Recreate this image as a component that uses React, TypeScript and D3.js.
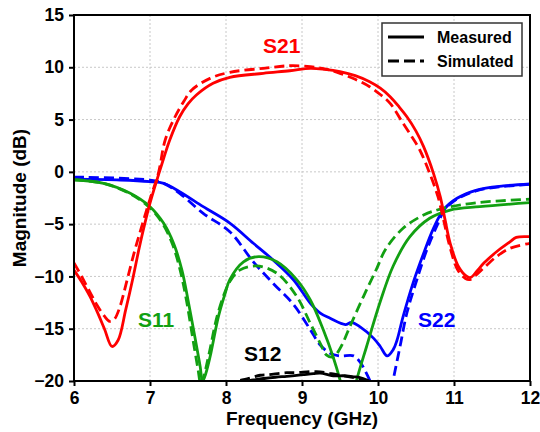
import React, { useRef, useEffect } from 'react';
import * as d3 from 'd3';

// [frequency GHz, magnitude dB]
const s21Meas: [number, number][] = [
  [6.0, -9.4], [6.1, -10.5], [6.21, -11.9], [6.3, -13.3], [6.4, -15.0], [6.5, -16.7], [6.58, -16.1],
  [6.68, -13.2], [6.78, -10.0], [6.86, -7.2], [6.93, -5.0], [7.0, -3.0], [7.09, -0.8], [7.18, 1.3],
  [7.26, 3.05], [7.39, 5.27], [7.5, 6.5], [7.61, 7.35], [7.83, 8.47], [8.05, 9.04], [8.49, 9.42],
  [8.84, 9.67], [9.11, 9.9], [9.3, 9.8], [9.5, 9.58], [9.7, 9.2], [9.89, 8.62], [10.03, 8.0],
  [10.16, 7.19], [10.28, 6.2], [10.38, 5.27], [10.5, 3.9], [10.6, 2.41], [10.73, -0.14], [10.82, -2.4],
  [10.88, -4.5], [10.95, -6.83], [11.06, -9.07], [11.17, -10.0], [11.22, -10.1], [11.3, -9.5],
  [11.39, -8.75], [11.56, -7.64], [11.74, -6.68], [11.82, -6.26], [12.0, -6.2],
];
const s21Sim: [number, number][] = [
  [6.0, -8.7], [6.1, -10.0], [6.21, -11.5], [6.3, -12.7], [6.4, -13.8], [6.47, -14.3], [6.53, -14.1],
  [6.6, -13.0], [6.7, -10.3], [6.8, -7.5], [6.9, -5.0], [7.0, -2.6], [7.11, -0.14], [7.2, 3.05],
  [7.33, 5.27], [7.45, 6.8], [7.55, 7.83], [7.79, 8.94], [8.05, 9.52], [8.49, 9.9], [8.84, 10.15],
  [9.11, 10.06], [9.3, 9.85], [9.5, 9.42], [9.7, 8.85], [9.89, 8.14], [10.03, 7.4], [10.16, 6.55],
  [10.33, 4.64], [10.45, 3.3], [10.55, 2.09], [10.68, -0.14], [10.79, -2.4], [10.86, -4.5],
  [10.94, -7.0], [11.05, -9.4], [11.15, -10.2], [11.21, -10.3], [11.3, -9.8], [11.39, -9.2],
  [11.56, -8.1], [11.74, -7.3], [12.0, -6.83],
];
const s11Meas: [number, number][] = [
  [6.0, -0.78], [6.39, -1.1], [6.74, -2.05], [7.0, -3.33], [7.18, -4.92], [7.31, -6.83], [7.42, -9.39],
  [7.5, -12.25], [7.59, -15.77], [7.66, -18.6], [7.69, -20.0], [7.72, -19.6], [7.79, -17.7],
  [7.9, -13.85], [7.99, -11.6], [8.05, -10.3], [8.23, -8.6], [8.43, -8.1], [8.67, -8.6], [8.93, -10.3],
  [9.11, -12.25], [9.28, -15.1], [9.41, -17.7], [9.5, -19.9], [9.61, -23.5], [9.72, -19.9],
  [9.85, -16.7], [10.03, -12.4], [10.2, -9.0], [10.42, -6.2], [10.68, -4.44], [10.95, -3.65],
  [11.34, -3.33], [12.0, -2.95],
];
const s11Sim: [number, number][] = [
  [6.0, -0.75], [6.39, -1.1], [6.74, -2.1], [7.0, -3.45], [7.17, -5.0], [7.3, -7.0], [7.4, -9.5],
  [7.48, -12.3], [7.56, -15.8], [7.63, -18.8], [7.67, -20.3], [7.71, -19.5], [7.78, -17.3],
  [7.88, -13.9], [7.98, -11.6], [8.05, -10.5], [8.18, -9.4], [8.4, -9.0], [8.67, -9.7], [8.93, -11.9],
  [9.11, -14.5], [9.24, -16.4], [9.32, -17.5], [9.41, -17.7], [9.5, -16.9], [9.63, -14.8],
  [9.81, -11.9], [9.98, -9.3], [10.1, -7.4], [10.33, -5.4], [10.6, -4.13], [10.86, -3.49],
  [11.3, -2.95], [12.0, -2.62],
];
const s22Meas: [number, number][] = [
  [6.0, -0.7], [6.61, -0.78], [7.0, -0.94], [7.18, -1.1], [7.39, -1.9], [7.7, -3.33], [8.05, -4.9],
  [8.36, -6.83], [8.62, -8.43], [8.89, -10.34], [9.11, -12.57], [9.24, -13.5], [9.37, -14.0],
  [9.57, -14.6], [9.65, -14.4], [9.76, -14.8], [9.94, -15.9], [10.03, -16.7], [10.12, -17.6],
  [10.2, -17.0], [10.25, -16.1], [10.33, -13.85], [10.46, -10.66], [10.6, -7.8], [10.73, -5.4],
  [10.86, -3.65], [11.04, -2.53], [11.3, -1.74], [11.65, -1.35], [12.0, -1.16],
];
const s22Sim: [number, number][] = [
  [6.0, -0.5], [7.0, -0.78], [7.18, -1.1], [7.39, -2.05], [7.7, -3.97], [8.05, -5.72], [8.36, -8.6],
  [8.62, -10.66], [8.89, -12.7], [9.11, -15.1], [9.24, -16.56], [9.37, -17.35], [9.5, -17.6],
  [9.68, -17.6], [9.76, -18.15], [9.85, -19.3], [9.92, -20.5], [10.0, -23], [10.12, -23],
  [10.2, -19.9], [10.29, -16.7], [10.38, -13.5], [10.51, -10.34], [10.64, -7.5], [10.77, -5.24],
  [10.88, -3.6], [11.04, -2.6], [11.3, -1.8], [11.65, -1.4], [12.0, -1.2],
];
const s12Meas: [number, number][] = [
  [8.0, -20.5], [8.29, -20.0], [8.36, -19.9], [8.65, -19.64], [8.8, -19.55], [9.01, -19.4],
  [9.15, -19.3], [9.24, -19.25], [9.41, -19.5], [9.55, -19.5], [9.68, -19.6], [9.74, -19.64],
  [9.87, -19.96], [9.95, -20.3],
];
const s12Sim: [number, number][] = [
  [8.0, -20.4], [8.18, -19.95], [8.3, -19.75], [8.45, -19.45], [8.55, -19.4], [8.8, -19.2],
  [8.92, -19.2], [9.19, -19.1], [9.46, -19.4], [9.69, -19.7], [9.83, -19.96], [9.9, -20.3],
];

const xTicks = [6, 7, 8, 9, 10, 11, 12];
const yTicks = [-20, -15, -10, -5, 0, 5, 10, 15];

const series = [
  { data: s22Meas, color: '#0000ff', dash: null },
  { data: s22Sim, color: '#0000ff', dash: '10,5' },
  { data: s11Meas, color: '#12a012', dash: null },
  { data: s11Sim, color: '#12a012', dash: '10,5' },
  { data: s12Meas, color: '#000000', dash: null },
  { data: s12Sim, color: '#000000', dash: '10,5' },
  { data: s21Meas, color: '#ff0000', dash: null },
  { data: s21Sim, color: '#ff0000', dash: '10,5' },
];

const labels = [
  { text: 'S21', x: 263, y: 53, color: '#ff0000' },
  { text: 'S11', x: 138, y: 327, color: '#12a012' },
  { text: 'S12', x: 244, y: 361, color: '#000000' },
  { text: 'S22', x: 418, y: 327, color: '#0000ff' },
];

const FONT = '"Liberation Sans", Arial, sans-serif';

const App = () => {
  const svgRef = useRef<SVGSVGElement>(null);
  const margin = { top: 15, right: 10, bottom: 51, left: 74 };
  const W = 540;
  const H = 432;

  useEffect(() => {
    const svg = d3.select(svgRef.current);
    svg.selectAll('*').remove();

    const x = d3.scaleLinear().domain([6, 12]).range([margin.left, W - margin.right]);
    const y = d3.scaleLinear().domain([-20, 15]).range([H - margin.bottom, margin.top]);

    svg.append('defs').append('clipPath').attr('id', 'plotclip')
      .append('rect')
      .attr('x', margin.left).attr('y', margin.top)
      .attr('width', x(12) - x(6)).attr('height', y(-20) - y(15));

    // grid
    const grid = svg.append('g').attr('stroke', '#c8c8c8').attr('stroke-width', 1).attr('stroke-dasharray', '2,2');
    xTicks.slice(1, -1).forEach(t => {
      grid.append('line').attr('x1', x(t)).attr('x2', x(t)).attr('y1', y(15)).attr('y2', y(-20));
    });
    yTicks.slice(1, -1).forEach(t => {
      grid.append('line').attr('x1', x(6)).attr('x2', x(12)).attr('y1', y(t)).attr('y2', y(t));
    });

    // curves
    const line = d3.line<[number, number]>()
      .x(d => x(d[0]))
      .y(d => y(d[1]))
      .curve(d3.curveCatmullRom.alpha(0.5));

    const curves = svg.append('g').attr('clip-path', 'url(#plotclip)');
    series.forEach(s => {
      curves.append('path')
        .attr('d', line(s.data))
        .attr('fill', 'none')
        .attr('stroke', s.color)
        .attr('stroke-width', 2.8)
        .attr('stroke-dasharray', s.dash)
        .attr('stroke-linejoin', 'round');
    });

    // axes
    const xAxis = svg.append('g')
      .attr('transform', `translate(0,${y(-20)})`)
      .call(d3.axisBottom(x).tickValues(xTicks).tickSize(5).tickPadding(6).tickFormat(d3.format('d')));
    const yAxis = svg.append('g')
      .attr('transform', `translate(${x(6)},0)`)
      .call(d3.axisLeft(y).tickValues(yTicks).tickSize(5).tickPadding(5));
    [xAxis, yAxis].forEach(a => {
      a.select('.domain').remove();
      a.selectAll('line').attr('stroke', '#000').attr('stroke-width', 2);
      a.selectAll('text')
        .attr('font-family', FONT)
        .attr('font-weight', 'bold')
        .attr('font-size', 17.5)
        .attr('fill', '#000');
    });

    // frame
    svg.append('rect')
      .attr('x', x(6)).attr('y', y(15))
      .attr('width', x(12) - x(6)).attr('height', y(-20) - y(15))
      .attr('fill', 'none').attr('stroke', '#000').attr('stroke-width', 2);

    // axis titles
    svg.append('text')
      .attr('x', (x(6) + x(12)) / 2)
      .attr('y', 425)
      .attr('text-anchor', 'middle')
      .attr('font-family', FONT).attr('font-weight', 'bold').attr('font-size', 19)
      .text('Frequency (GHz)');
    svg.append('text')
      .attr('transform', `translate(26,${(y(15) + y(-20)) / 2}) rotate(-90)`)
      .attr('text-anchor', 'middle')
      .attr('font-family', FONT).attr('font-weight', 'bold').attr('font-size', 19)
      .text('Magnitude (dB)');

    // curve labels
    labels.forEach(l => {
      svg.append('text')
        .attr('x', l.x).attr('y', l.y)
        .attr('fill', l.color)
        .attr('font-family', FONT).attr('font-weight', 'bold').attr('font-size', 21)
        .text(l.text);
    });

    // legend
    const lg = svg.append('g');
    lg.append('rect')
      .attr('x', 382).attr('y', 23).attr('width', 140).attr('height', 53)
      .attr('fill', '#fff').attr('stroke', '#333').attr('stroke-width', 1.5);
    [{ t: 'Measured', dash: null, yy: 37 }, { t: 'Simulated', dash: '11,5', yy: 61 }].forEach(e => {
      lg.append('line')
        .attr('x1', 388).attr('x2', 424).attr('y1', e.yy).attr('y2', e.yy)
        .attr('stroke', '#000').attr('stroke-width', 3)
        .attr('stroke-dasharray', e.dash);
      lg.append('text')
        .attr('x', 437).attr('y', e.yy).attr('dy', '0.35em')
        .attr('font-family', FONT).attr('font-weight', 'bold').attr('font-size', 16)
        .text(e.t);
    });
  }, []);

  return (
    <svg
      ref={svgRef}
      width={W}
      height={H}
      style={{ position: 'absolute', left: 0, top: 0, background: '#fff' }}
    />
  );
};

export default App;
